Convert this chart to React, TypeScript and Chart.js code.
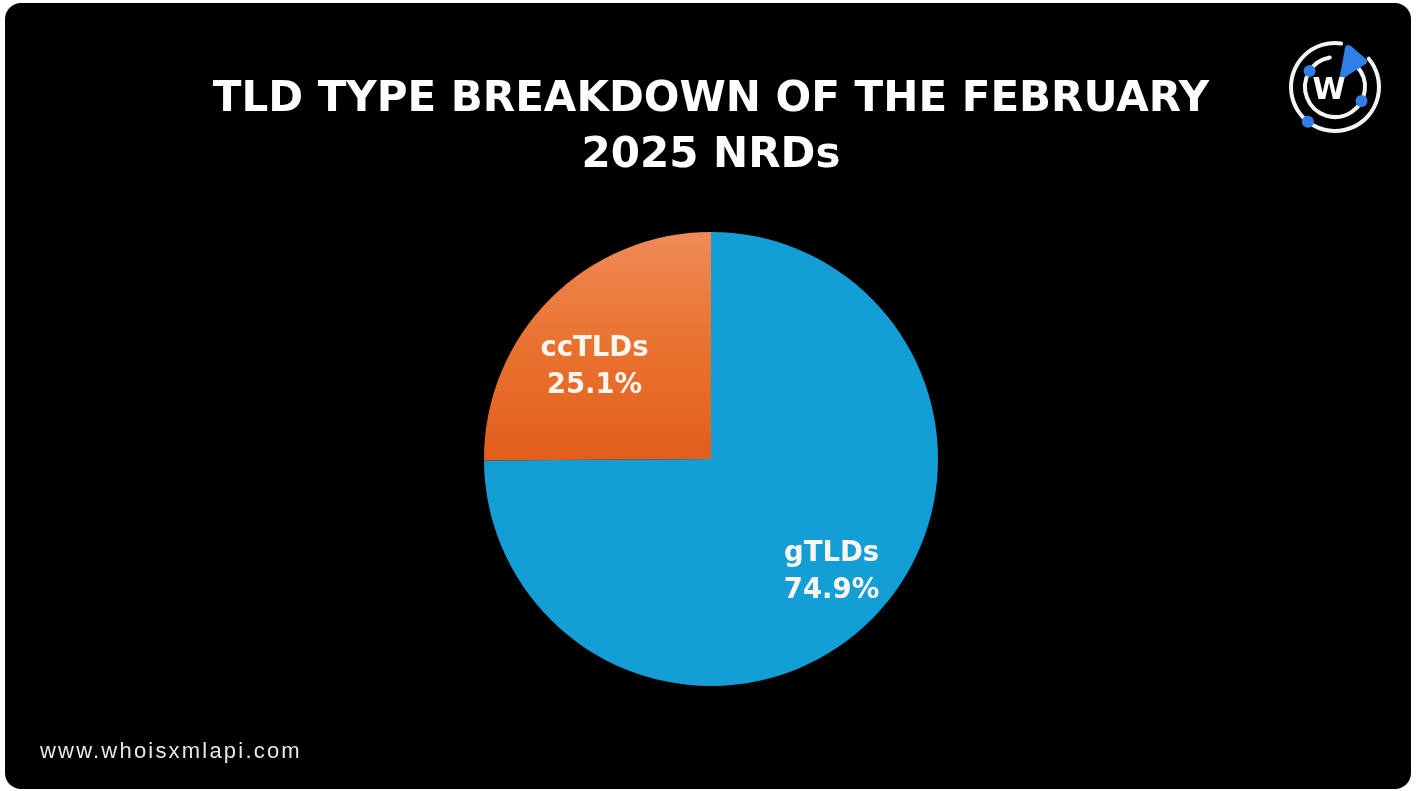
import React, { useEffect, useRef } from "react";
import { Chart, registerables } from "chart.js";

Chart.register(...registerables);

const categories = ["gTLDs", "ccTLDs"];
const shares = [74.9, 25.1];
const sliceColors = ["#139fd6", "#e8702f"];
const titleLines = ["TLD TYPE BREAKDOWN OF THE FEBRUARY", "2025 NRDs"];
const footerText = "www.whoisxmlapi.com";

const HEAVY = "'DejaVu Sans', 'Liberation Sans', Arial, sans-serif";

const labelPlugin = {
  id: "sliceLabels",
  afterDatasetsDraw(chart: any) {
    const ctx = chart.ctx;
    const meta = chart.getDatasetMeta(0);
    ctx.save();
    ctx.fillStyle = "#fdf6f0";
    ctx.font = `bold 27.5px ${HEAVY}`;
    ctx.textAlign = "center";
    ctx.textBaseline = "middle";
    const shift = (-4 * Math.PI) / 180;
    meta.data.forEach((arc: any, i: number) => {
      const p = arc.getProps(["x", "y", "startAngle", "endAngle", "outerRadius"], true);
      const mid = (p.startAngle + p.endAngle) / 2 + shift;
      const r = p.outerRadius * 0.69;
      const cx = p.x + Math.cos(mid) * r + 2;
      const cy = p.y + Math.sin(mid) * r + 11;
      ctx.fillText(categories[i], cx, cy - 18.5);
      ctx.fillText(shares[i].toFixed(1) + "%", cx, cy + 18.5);
    });
    ctx.restore();
  },
};

function Logo() {
  const c = 50;
  const arc = (r: number, a0: number, a1: number) => {
    const rad = (a: number) => (a * Math.PI) / 180;
    const x0 = c + r * Math.cos(rad(a0));
    const y0 = c + r * Math.sin(rad(a0));
    const x1 = c + r * Math.cos(rad(a1));
    const y1 = c + r * Math.sin(rad(a1));
    const large = (a1 - a0 + 360) % 360 > 180 ? 1 : 0;
    return `M ${x0} ${y0} A ${r} ${r} 0 ${large} 1 ${x1} ${y1}`;
  };
  const dot = (r: number, a: number) => {
    const rad = (a * Math.PI) / 180;
    return { cx: c + r * Math.cos(rad), cy: c + r * Math.sin(rad) };
  };
  return (
    <svg width={100} height={100} viewBox="0 0 100 100" style={{ position: "absolute", left: 1280, top: 34 }}>
      <path d={arc(44, -40, -82)} stroke="#f4f4f4" strokeWidth={4} fill="none" strokeLinecap="round" />
      <path d={arc(30, -45, -100)} stroke="#f4f4f4" strokeWidth={4} fill="none" strokeLinecap="round" />
      <circle {...dot(44, 128)} r={6} fill="#2f7fe8" />
      <circle {...dot(30, -148)} r={6} fill="#2f7fe8" />
      <circle {...dot(30, 28)} r={6} fill="#2f7fe8" />
      <path d="M 54 44 L 60 11 Q 61 6 66 9 L 81 22 Q 84 26 79 28 Z" fill="#2f7fe8" />
      <text x={44} y={62} textAnchor="middle" fill="#ffffff" fontFamily={HEAVY} fontWeight="bold" fontSize={30}>
        W
      </text>
    </svg>
  );
}

export default function App() {
  const canvasRef = useRef<HTMLCanvasElement | null>(null);

  useEffect(() => {
    if (!canvasRef.current) return;
    const chart = new Chart(canvasRef.current, {
      type: "pie",
      data: {
        labels: categories,
        datasets: [
          {
            data: shares,
            borderWidth: 0,
            backgroundColor: (ctx: any) => {
              const i = ctx.dataIndex;
              const chart = ctx.chart;
              const area = chart.chartArea;
              if (i === 1 && area) {
                const g = chart.ctx.createLinearGradient(0, area.top, 0, (area.top + area.bottom) / 2);
                g.addColorStop(0, "#ef8a58");
                g.addColorStop(0.5, "#e9722f");
                g.addColorStop(1, "#e25e1d");
                return g;
              }
              return sliceColors[i];
            },
          },
        ],
      },
      options: {
        responsive: false,
        devicePixelRatio: 1,
        animation: false,
        layout: { padding: { top: 0, bottom: 103, left: 6, right: 0 } },
        plugins: {
          legend: { display: false },
          tooltip: { enabled: false },
          title: {
            display: true,
            text: titleLines,
            color: "#ffffff",
            font: { family: HEAVY, size: 42, weight: "bold", lineHeight: 56 / 42 },
            padding: { top: 69, bottom: 48 },
          },
        },
      },
      plugins: [labelPlugin],
    });
    return () => chart.destroy();
  }, []);

  return (
    <div style={{ position: "fixed", left: 0, top: 0, width: 1418, height: 791, background: "#ffffff" }}>
      <div
        style={{
          position: "absolute",
          left: 5,
          top: 3,
          width: 1406,
          height: 786,
          background: "#000000",
          borderRadius: 16,
          overflow: "hidden",
        }}
      >
        <canvas ref={canvasRef} width={1406} height={786} style={{ position: "absolute", left: 0, top: 0 }} />
        <Logo />
        <div
          style={{
            position: "absolute",
            left: 35,
            top: 735,
            fontFamily: "'Liberation Sans', Arial, sans-serif",
            fontSize: 22,
            lineHeight: "25px",
            letterSpacing: "2.2px",
            color: "#e8e8e8",
          }}
        >
          {footerText}
        </div>
      </div>
    </div>
  );
}
